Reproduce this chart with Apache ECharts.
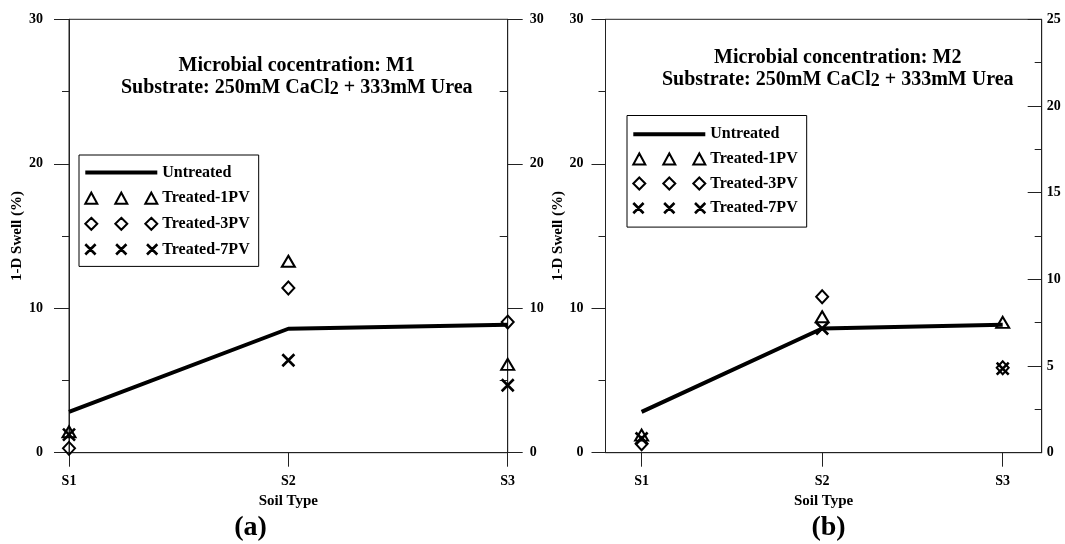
<!DOCTYPE html>
<html><head><meta charset="utf-8">
<script src="https://cdn.jsdelivr.net/npm/echarts@6/dist/echarts.min.js"></script>
<style>html,body{margin:0;padding:0;background:#fff}#c{width:1065px;height:544px}</style>
</head><body><div id="c"></div>
<script>
// ---- data ----
const categories = ['S1', 'S2', 'S3'];
const untreatedA = [2.83, 8.58, 8.86];
const pv1A = [1.45, 13.25, 6.11];
const pv3A = [0.30, 11.40, 9.04];
const pv7A = [1.25, 6.40, 4.67];
const untreatedB = [2.83, 8.60, 8.86];
const pv1B = [1.22, 9.41, 9.02];
const pv3B = [0.62, 10.80, 5.88];
const pv7B = [0.98, 8.60, 5.82];
const seriesNames = ['Untreated', 'Treated-1PV', 'Treated-3PV', 'Treated-7PV'];
const titleA = ['Microbial cocentration: M1', 'Substrate: 250mM CaCl', '2', ' + 333mM Urea'];
const titleB = ['Microbial concentration: M2', 'Substrate: 250mM CaCl', '2', ' + 333mM Urea'];
const panelLabels = ['(a)', '(b)'];
const yName = '1-D Swell (%)';
const xName = 'Soil Type';

// ---- style ----
const FONT = 'Liberation Serif';
const LC = '#222';
const base = { fontFamily: FONT, fontWeight: 'bold', color: '#000' };
const xy = arr => arr.map((v, i) => [i, v]);
const hollow = { color: 'rgba(0,0,0,0)', borderColor: '#000', borderWidth: 2, opacity: 1 };
const xSym = 'path://M0 0L10 10M10 0L0 10';
const triIcon = 'path://M0 12L6 1L12 12ZM30 12L36 1L42 12ZM60 12L66 1L72 12Z';
const diaIcon = 'path://M6 0L12 6L6 12L0 6ZM36 0L42 6L36 12L30 6ZM66 0L72 6L66 12L60 6Z';
const xIcon = 'path://M1 1L11 11M11 1L1 11M31 1L41 11M41 1L31 11M61 1L71 11M71 1L61 11';

const legendData = [
  { name: seriesNames[0], icon: 'path://M0 0H72V4H0Z', itemStyle: { color: '#000', borderWidth: 0, opacity: 1 } },
  { name: seriesNames[1], icon: triIcon, itemStyle: { color: 'rgba(0,0,0,0)', borderColor: '#000', borderWidth: 2, opacity: 1 } },
  { name: seriesNames[2], icon: diaIcon, itemStyle: { color: 'rgba(0,0,0,0)', borderColor: '#000', borderWidth: 2, opacity: 1 } },
  { name: seriesNames[3], icon: xIcon, itemStyle: { color: 'rgba(0,0,0,0)', borderColor: '#000', borderWidth: 2.6, opacity: 1 } }
];

function xAx(gridIndex, min, max) {
  return {
    gridIndex, type: 'value', min, max,
    axisLine: { show: true, onZero: false, lineStyle: { color: LC, width: 1 } },
    axisTick: { show: true, customValues: [0, 1, 2], length: 14, lineStyle: { color: LC } },
    axisLabel: { customValues: [0, 1, 2], formatter: v => categories[Math.round(v)] || '', margin: 22, ...base, fontSize: 14 },
    splitLine: { show: false },
    name: xName, nameLocation: 'middle', nameGap: 41, nameTextStyle: { ...base, fontSize: 15 }
  };
}
function yAx(gridIndex, position, max, interval, o) {
  return {
    gridIndex, type: 'value', position, min: 0, max, interval,
    axisLine: { show: true, onZero: false, lineStyle: { color: LC, width: 1 } },
    axisTick: { show: true, length: o.tick, inside: !!o.inside, lineStyle: { color: LC } },
    minorTick: { show: !!o.minor, splitNumber: 2, length: o.minor || 0, lineStyle: { color: LC } },
    axisLabel: { margin: o.margin, ...base, fontSize: 14 },
    splitLine: { show: false },
    name: o.name || '', nameLocation: 'middle', nameGap: o.nameGap || 0, nameTextStyle: { ...base, fontSize: 15 }
  };
}

function panelSeries(xIdx, yIdx, un, p1, p3, p7) {
  return [
    { name: seriesNames[0], type: 'line', xAxisIndex: xIdx, yAxisIndex: yIdx, data: xy(un), symbol: 'none',
      lineStyle: { color: '#000', width: 4 }, itemStyle: { color: '#000' }, z: 2 },
    { name: seriesNames[1], type: 'scatter', xAxisIndex: xIdx, yAxisIndex: yIdx, data: xy(p1), symbol: 'triangle',
      symbolSize: [13, 11], itemStyle: hollow, z: 3 },
    { name: seriesNames[2], type: 'scatter', xAxisIndex: xIdx, yAxisIndex: yIdx, data: xy(p3), symbol: 'diamond',
      symbolSize: [12, 13], itemStyle: hollow, z: 3 },
    { name: seriesNames[3], type: 'scatter', xAxisIndex: xIdx, yAxisIndex: yIdx, data: xy(p7), symbol: xSym,
      symbolSize: 12, itemStyle: { color: 'rgba(0,0,0,0)', borderColor: '#000', borderWidth: 2.6, opacity: 1 }, z: 3 }
  ];
}

const rich = {
  t: { fill: '#000', fontFamily: FONT, fontWeight: 'bold', fontSize: 20, lineHeight: 22 },
  s: { fill: '#000', fontFamily: FONT, fontWeight: 'bold', fontSize: 18, lineHeight: 14, verticalAlign: 'bottom' }
};
function titleText(x, y1, y2, t) {
  return [
    { type: 'text', x, y: y1, style: { text: '{t|' + t[0] + '}', rich, align: 'center', verticalAlign: 'middle' } },
    { type: 'text', x, y: y2, style: { text: '{t|' + t[1] + '}{s|' + t[2] + '}{t|' + t[3] + '}', rich, align: 'center', verticalAlign: 'middle' } }
  ];
}

const legendBase = {
  orient: 'vertical', itemWidth: 72, itemHeight: 12, borderColor: '#000', borderWidth: 1,
  backgroundColor: '#fff', selectedMode: false, textStyle: { ...base, fontSize: 16, lineHeight: 12 }, data: legendData
};

const option = {
  backgroundColor: '#fff',
  animation: false,
  grid: [
    { left: 69, top: 19.3, width: 438.7, height: 433.4, show: true, borderColor: LC, borderWidth: 1, containLabel: false },
    { left: 605.5, top: 19.3, width: 436.2, height: 433.4, show: true, borderColor: LC, borderWidth: 1, containLabel: false },
    { left: 69, top: 19.3, width: 438.7, height: 433.4, show: false, containLabel: false }
  ],
  xAxis: [
    xAx(0, 0, 2),
    xAx(1, -0.2, 2.216),
    { gridIndex: 2, type: 'value', min: 0, max: 2, show: false }
  ],
  yAxis: [
    yAx(0, 'left', 30, 10, { tick: 15, minor: 7, margin: 26, name: yName, nameGap: 42 }),
    yAx(0, 'right', 30, 10, { tick: 15, margin: 22 }),
    yAx(1, 'left', 30, 10, { tick: 14, minor: 7, margin: 22, name: yName, nameGap: 40 }),
    yAx(1, 'right', 25, 5, { tick: 14, minor: 7, inside: true, margin: 5 }),
    { gridIndex: 2, type: 'value', position: 'right', min: 0, max: 30, interval: 10,
      axisLine: { show: false, onZero: false }, axisLabel: { show: false }, splitLine: { show: false },
      axisTick: { show: true, inside: true, length: 8, customValues: [5, 15, 25], lineStyle: { color: LC } } }
  ],
  legend: [
    { ...legendBase, left: 79, top: 155, itemGap: 9.6, padding: [9.6, 9, 9, 5] },
    { ...legendBase, left: 627, top: 115.5, itemGap: 8.6, padding: [10.8, 9, 11, 5] }
  ],
  graphic: [
    ...titleText(296.7, 66, 87.8, titleA),
    ...titleText(837.7, 58, 79.8, titleB),
    { type: 'text', x: 250.6, y: 528, style: { text: panelLabels[0], fill: '#000', font: 'bold 28px "Liberation Serif"', align: 'center', verticalAlign: 'middle' } },
    { type: 'text', x: 828.5, y: 528, style: { text: panelLabels[1], fill: '#000', font: 'bold 28px "Liberation Serif"', align: 'center', verticalAlign: 'middle' } }
  ],
  series: [
    ...panelSeries(0, 0, untreatedA, pv1A, pv3A, pv7A),
    ...panelSeries(1, 2, untreatedB, pv1B, pv3B, pv7B)
  ]
};
const chart = echarts.init(document.getElementById('c'), null, { renderer: 'canvas' });
chart.setOption(option);
</script></body></html>
